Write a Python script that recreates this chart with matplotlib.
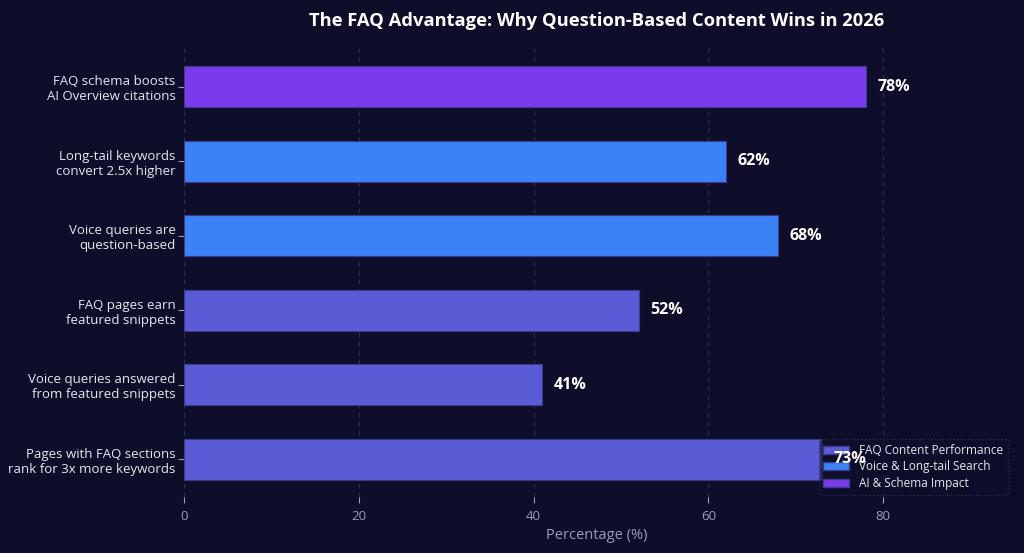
import matplotlib
matplotlib.use("Agg")
import matplotlib.pyplot as plt
from matplotlib.patches import Patch

categories = [
    "Pages with FAQ sections\nrank for 3x more keywords",
    "Voice queries answered\nfrom featured snippets",
    "FAQ pages earn\nfeatured snippets",
    "Voice queries are\nquestion-based",
    "Long-tail keywords\nconvert 2.5x higher",
    "FAQ schema boosts\nAI Overview citations",
]
values = [73, 41, 52, 68, 62, 78]
groups = ["FAQ Content Performance", "FAQ Content Performance", "FAQ Content Performance",
          "Voice & Long-tail Search", "Voice & Long-tail Search", "AI & Schema Impact"]
group_names = ["FAQ Content Performance", "Voice & Long-tail Search", "AI & Schema Impact"]
group_colors = {"FAQ Content Performance": "#5b5bd6",
                "Voice & Long-tail Search": "#3b82f6",
                "AI & Schema Impact": "#7c3aed"}

bg = "#0f0e2a"
plt.rcParams['font.family'] = ['Open Sans', 'DejaVu Sans']

fig = plt.figure(figsize=(10.24, 5.53), dpi=100, facecolor=bg)
ax = fig.add_axes([184/1024, 1 - 497/553, (1010-184)/1024, (497-48)/553])
ax.set_facecolor(bg)

ypos = list(range(len(categories)))
colors = [group_colors[g] for g in groups]
ax.barh(ypos, values, height=0.55, color=colors, edgecolor="#3c3a8a", linewidth=0.8, zorder=3)

for y, v in zip(ypos, values):
    ax.text(v + 1.3, y, f"{v}%", va="center", ha="left", color="white",
            fontsize=11.5, fontweight="bold", zorder=5)

ax.set_yticks(ypos)
ax.set_yticklabels(categories, fontsize=9.5)
ax.set_xlim(0, 94.5)
ax.set_ylim(-0.51, 5.52)
ax.set_xticks([0, 20, 40, 60, 80])
ax.tick_params(axis="x", colors="#9a9cb8", labelsize=9.5, length=4, pad=5)
ax.tick_params(axis="y", colors="#9a9cb8", length=4, pad=2)
for lbl in ax.get_yticklabels():
    lbl.set_color("#e5e7f0")
for s in ax.spines.values():
    s.set_visible(False)
ax.grid(axis="x", color="#2c2c58", linestyle=(0, (4, 4)), linewidth=0.8, zorder=0)
ax.set_axisbelow(True)
ax.set_xlabel("Percentage (%)", color="#9a9cb8", fontsize=10.5, labelpad=4)

ax.set_title("The FAQ Advantage: Why Question-Based Content Wins in 2026",
             color="white", fontsize=13.2, fontweight="bold", pad=16)

handles = [Patch(facecolor=group_colors[g], edgecolor="#3c3a8a", label=g) for g in group_names]
leg = ax.legend(handles=handles, loc="lower right", fontsize=8.5, frameon=True,
                facecolor=bg, edgecolor="#3a3a6a", labelcolor="#e5e7f0",
                borderaxespad=0.2, handlelength=2.2, labelspacing=0.3, borderpad=0.4,
                handletextpad=0.8, framealpha=0.6)
leg.get_frame().set_linestyle(":")
leg.set_zorder(4)

fig.savefig("out.png", dpi=100, facecolor=bg)
